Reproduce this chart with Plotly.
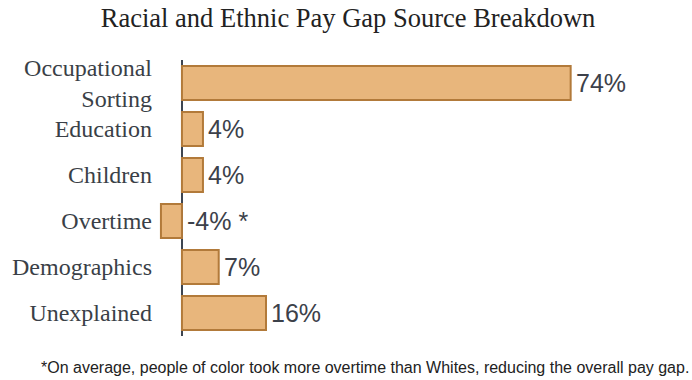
import plotly.graph_objects as go

categories = ["Occupational<br>Sorting", "Education", "Children", "Overtime", "Demographics", "Unexplained"]
values = [74, 4, 4, -4, 7, 16]
value_labels = ["74%", "4%", "4%", "-4% *", "7%", "16%"]

fig = go.Figure()
fig.add_trace(go.Bar(
    x=values, y=categories, orientation="h",
    marker=dict(color="#E8B67C", line=dict(color="#B27A3A", width=2)),
    hoverinfo="skip",
))

for cat, v, lab in zip(categories, values, value_labels):
    fig.add_annotation(
        x=max(v, 0), y=cat, text=lab, showarrow=False,
        xanchor="left", yanchor="middle", xshift=3,
        font=dict(family="Liberation Sans, Arial, sans-serif", size=25, color="#3C414A"),
    )

fig.add_annotation(
    xref="paper", yref="paper", x=0.998, y=-0.075, xanchor="right", yanchor="top",
    text="*On average, people of color took more overtime than Whites, reducing the overall pay gap.",
    showarrow=False,
    font=dict(family="Liberation Sans, Arial, sans-serif", size=16, color="#222222"),
)

fig.update_layout(
    width=692, height=380,
    margin=dict(l=157, r=0, t=60, b=44),
    paper_bgcolor="white", plot_bgcolor="white",
    showlegend=False,
    bargap=0.26,
    title=dict(
        text="Racial and Ethnic Pay Gap Source Breakdown",
        x=0.503, xanchor="center", y=0.978, yanchor="top",
        font=dict(family="Liberation Serif, Times New Roman, serif", size=26.5, color="#222222"),
    ),
    xaxis=dict(
        range=[-4.75, 97.1], showgrid=False, showticklabels=False, ticks="",
        zeroline=True, zerolinecolor="#3D4551", zerolinewidth=2, fixedrange=True,
    ),
    yaxis=dict(
        autorange="reversed", showgrid=False, ticks="", zeroline=False,
        ticklabelstandoff=4,
        tickfont=dict(family="Liberation Serif, Times New Roman, serif", size=24, color="#3A3F47"),
        fixedrange=True,
    ),
)

fig.write_html("out.html")
